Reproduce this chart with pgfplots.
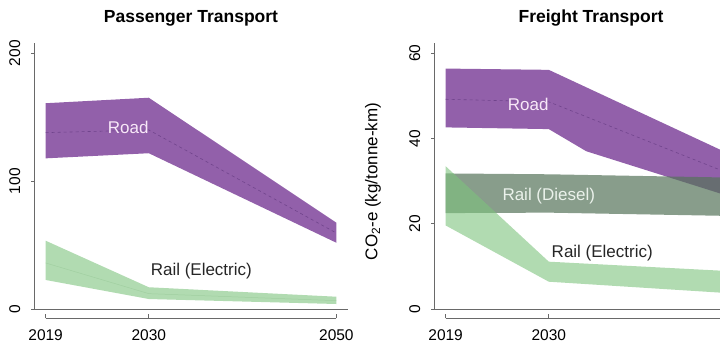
\documentclass[border=0pt]{standalone}
\usepackage{fontspec}
\setmainfont{Liberation Sans}
\usepackage{pgfplots}
\pgfplotsset{compat=1.18}
\definecolor{roadc}{RGB}{146,96,170}
\definecolor{roadmed}{RGB}{112,68,140}
\definecolor{dieselc}{RGB}{85,115,90}
\definecolor{elecc}{RGB}{125,195,125}
\definecolor{elecmed}{RGB}{150,200,150}
\definecolor{axisgray}{RGB}{105,105,105}
\definecolor{lightlab}{RGB}{248,232,248}
\definecolor{lightlabg}{RGB}{235,242,235}
\pgfplotsset{rstyle/.style={
  scale only axis, width=314pt, height=266pt,
  xmin=2017.76, xmax=2051.24, ymin=0,
  axis x line*=bottom, axis y line*=left,
  axis line style={-, draw=axisgray, line width=0.7pt},
  x tick style={draw=none},
  xticklabel style={anchor=base, yshift=-28.5pt, font=\fontsize{15.5}{18}\selectfont},
  y tick style={draw=axisgray, line width=0.7pt},
  tick align=outside, major tick length=3pt,
  yticklabel style={rotate=90, anchor=south, inner sep=0pt, font=\fontsize{15.5}{18}\selectfont},
  yticklabel shift=10.5pt,
  /pgf/number format/assume math mode=true,
  title style={at={(0.5,1)}, anchor=base, yshift=14.5pt, font=\bfseries\fontsize{17.5}{20}\selectfont},
  clip=false,
}}
\begin{document}
\begin{tikzpicture}
\useasboundingbox (0pt,0pt) rectangle (720pt,363pt);
\clip (0pt,0pt) rectangle (720pt,363pt);
% ---------------- Passenger ----------------
\begin{axis}[rstyle, at={(34pt,54pt)}, anchor=south west,
  xtick={2019,2030,2050}, xticklabels={2019,2030,2050},
  ymax=208, ytick={0,100,200}, title={Passenger Transport}]
\addplot[fill=roadc, draw=none] coordinates {(2019,160.9) (2030,165.2) (2050,67.5) (2050,51.8) (2030,121.8) (2019,117.8)} -- cycle;
\addplot[roadmed, dashed, line width=0.6pt] coordinates {(2019,137.9) (2030,140) (2050,59.4)};
\addplot[fill=elecc, fill opacity=0.6, draw=none] coordinates {(2019,53.4) (2030,17.0) (2050,9.6) (2050,3.9) (2030,7.8) (2019,22.7)} -- cycle;
\addplot[elecmed, line width=0.5pt, opacity=0.6] coordinates {(2019,36) (2030,12) (2050,6.5)};
\draw[axisgray, line width=0.7pt] ([yshift=-9.5pt]axis cs:2019,0) -- ([yshift=-9.5pt]axis cs:2050,0);
\draw[axisgray, line width=0.7pt] ([yshift=-9.5pt]axis cs:2019,0) -- ++(0pt,4.5pt);
\draw[axisgray, line width=0.7pt] ([yshift=-9.5pt]axis cs:2030,0) -- ++(0pt,4.5pt);
\draw[axisgray, line width=0.7pt] ([yshift=-9.5pt]axis cs:2050,0) -- ++(0pt,4.5pt);
\node[text=lightlab, font=\fontsize{17}{20}\selectfont] at (axis cs:2027.8,142.3) {Road};
\node[text=black!85, font=\fontsize{17}{20}\selectfont] at (axis cs:2035.6,29.7) {Rail (Electric)};
\end{axis}
% ---------------- Freight ----------------
\begin{axis}[rstyle, at={(434pt,54pt)}, anchor=south west,
  xtick={2019,2030}, xticklabels={2019,2030},
  ymax=62.4, ytick={0,20,40,60}, title={Freight Transport},
  ylabel={CO\textsubscript{2}-e (kg/tonne-km)},
  ylabel style={at={(axis description cs:-0.194,0.479)}, anchor=center, font=\fontsize{17}{20}\selectfont}]
\addplot[fill=roadc, draw=none] coordinates {(2019,56.4) (2030,56.1) (2050,35.6) (2050,25.9) (2034,37.0) (2030,42.2) (2019,42.6)} -- cycle;
\addplot[roadmed, dashed, line width=0.6pt] coordinates {(2019,49.2) (2030,48.6) (2050,31.1)};
\addplot[fill=dieselc, fill opacity=0.7, draw=none] coordinates {(2019,31.8) (2030,31.6) (2050,30.8) (2050,21.8) (2030,22.6) (2019,22.5)} -- cycle;
\addplot[fill=elecc, fill opacity=0.6, draw=none] coordinates {(2019,33.5) (2030,11.1) (2050,8.8) (2050,3.6) (2030,6.4) (2019,19.6)} -- cycle;
\draw[axisgray, line width=0.7pt] ([yshift=-9.5pt]axis cs:2019,0) -- ([yshift=-9.5pt]axis cs:2050,0);
\draw[axisgray, line width=0.7pt] ([yshift=-9.5pt]axis cs:2019,0) -- ++(0pt,4.5pt);
\draw[axisgray, line width=0.7pt] ([yshift=-9.5pt]axis cs:2030,0) -- ++(0pt,4.5pt);
\node[text=lightlab, font=\fontsize{17}{20}\selectfont] at (axis cs:2027.8,48.1) {Road};
\node[text=lightlabg, font=\fontsize{17}{20}\selectfont] at (axis cs:2030.0,26.5) {Rail (Diesel)};
\node[text=black!85, font=\fontsize{17}{20}\selectfont] at (axis cs:2035.7,13.1) {Rail (Electric)};
\end{axis}
\end{tikzpicture}
\end{document}
